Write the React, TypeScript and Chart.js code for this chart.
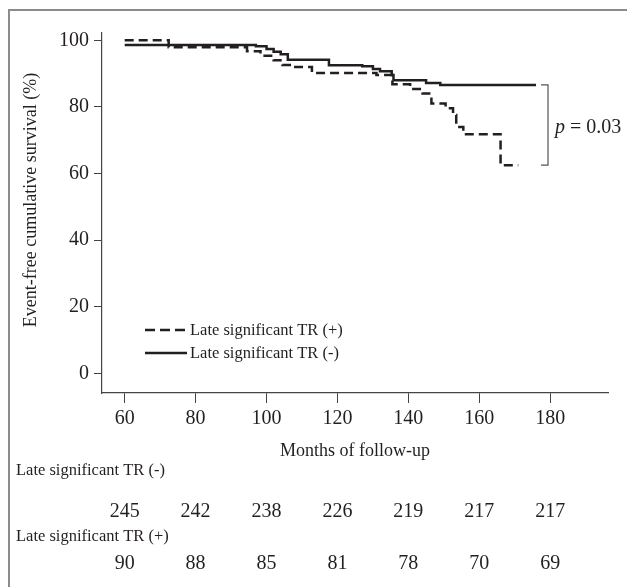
import React, { useEffect, useRef } from "react";
import { Chart, registerables } from "chart.js";

Chart.register(...registerables);

// ---- data ----
const monthsNeg = [60, 97, 100, 102, 104, 106, 117.6, 127, 130, 132, 135.3, 135.8, 145, 149, 176];
const survivalNeg = [98.6, 98.2, 97.4, 96.6, 95.8, 94.2, 92.5, 92.2, 91.4, 90.7, 89.6, 88.0, 87.2, 86.6, 86.6];
const monthsPos = [60, 72.4, 94.5, 98.3, 102, 104.5, 107.5, 112.8, 131, 135.5, 140.5, 144, 146.5, 150.5, 152.6, 153.5, 155.5, 166, 171];
const survivalPos = [100, 97.9, 96.7, 95.4, 94.0, 92.6, 92.0, 90.2, 89.6, 86.8, 85.4, 84.0, 81.0, 79.6, 77.6, 74.0, 71.8, 62.5, 62.5];
const xTicks = [60, 80, 100, 120, 140, 160, 180];
const yTicks = [0, 20, 40, 60, 80, 100];
const atRiskNeg = [245, 242, 238, 226, 219, 217, 217];
const atRiskPos = [90, 88, 85, 81, 78, 70, 69];
const seriesLabels = ["Late significant TR (+)", "Late significant TR (-)"];
const riskLabels = ["Late significant TR (-)", "Late significant TR (+)"];
const xTitle = "Months of follow-up";
const yTitle = "Event-free cumulative survival (%)";
const pValue = "0.03";

const SERIF = "'Liberation Serif', 'Times New Roman', serif";
const INK = "#231f20";

export default function App() {
  const ref = useRef<HTMLCanvasElement>(null);

  useEffect(() => {
    const canvas = ref.current;
    if (!canvas) return;

    const overlay = {
      id: "overlay",
      afterDraw(chart: any) {
        const { ctx, scales } = chart;
        const xs = scales.x;
        const ys = scales.y;
        ctx.save();

        // outer frame
        ctx.strokeStyle = "#8c8c8c";
        ctx.lineWidth = 2;
        ctx.setLineDash([]);
        ctx.beginPath();
        ctx.moveTo(9, 700);
        ctx.lineTo(9, 10);
        ctx.lineTo(700, 10);
        ctx.stroke();

        // y axis title
        ctx.save();
        ctx.translate(31, 200);
        ctx.rotate(-Math.PI / 2);
        ctx.font = `18px ${SERIF}`;
        ctx.fillStyle = INK;
        ctx.textAlign = "center";
        ctx.textBaseline = "middle";
        ctx.fillText(yTitle, 0, 0);
        ctx.restore();

        // legend
        const ds = chart.data.datasets;
        const legendX0 = 145;
        const legendX1 = 187;
        const legendY = [330, 353];
        ctx.font = `16.5px ${SERIF}`;
        ctx.textBaseline = "middle";
        ctx.textAlign = "left";
        ds.forEach((d: any, i: number) => {
          ctx.strokeStyle = INK;
          ctx.lineWidth = 2.5;
          ctx.setLineDash(d.borderDash ? [10, 5] : []);
          ctx.beginPath();
          ctx.moveTo(legendX0, legendY[i]);
          ctx.lineTo(legendX1, legendY[i]);
          ctx.stroke();
          ctx.setLineDash([]);
          ctx.fillStyle = INK;
          ctx.fillText(d.label, legendX1 + 3, legendY[i] + 1);
        });

        // p-value bracket
        const endX = xs.getPixelForValue(monthsNeg[monthsNeg.length - 1]);
        const bx = endX + 12;
        const yTop = ys.getPixelForValue(survivalNeg[survivalNeg.length - 1]);
        const yBot = ys.getPixelForValue(survivalPos[survivalPos.length - 1]);
        ctx.strokeStyle = "#555";
        ctx.lineWidth = 1.2;
        ctx.beginPath();
        ctx.moveTo(bx - 7, yTop);
        ctx.lineTo(bx, yTop);
        ctx.lineTo(bx, yBot);
        ctx.lineTo(bx - 7, yBot);
        ctx.stroke();
        const midY = (yTop + yBot) / 2 + 3;
        ctx.fillStyle = INK;
        ctx.font = `italic 20px ${SERIF}`;
        ctx.fillText("p", bx + 7, midY);
        const pw = ctx.measureText("p").width;
        ctx.font = `20px ${SERIF}`;
        ctx.fillText(" = " + pValue, bx + 7 + pw, midY);

        // number at risk table
        ctx.font = `16.5px ${SERIF}`;
        ctx.textAlign = "left";
        ctx.fillText(riskLabels[0], 16, 471);
        ctx.fillText(riskLabels[1], 16, 537);
        ctx.font = `20px ${SERIF}`;
        ctx.textAlign = "center";
        xTicks.forEach((t, i) => {
          const px = xs.getPixelForValue(t);
          ctx.fillText(String(atRiskNeg[i]), px, 512);
          ctx.fillText(String(atRiskPos[i]), px, 564);
        });

        ctx.restore();
      },
    };

    const chart = new Chart(canvas, {
      type: "line",
      data: {
        datasets: [
          {
            label: seriesLabels[0],
            data: monthsPos.map((m, i) => ({ x: m, y: survivalPos[i] })),
            borderColor: INK,
            borderWidth: 2.5,
            borderDash: [9, 5],
            stepped: true,
            pointRadius: 0,
            fill: false,
          },
          {
            label: seriesLabels[1],
            data: monthsNeg.map((m, i) => ({ x: m, y: survivalNeg[i] })),
            borderColor: INK,
            borderWidth: 2.5,
            stepped: true,
            pointRadius: 0,
            fill: false,
          },
        ],
      },
      options: {
        responsive: false,
        animation: false,
        devicePixelRatio: 1,
        layout: { padding: { top: 33, right: 19, left: 0, bottom: 0 } },
        plugins: {
          legend: { display: false },
          tooltip: { enabled: false },
        },
        scales: {
          x: {
            type: "linear",
            min: 53.6,
            max: 196.3,
            afterBuildTicks: (s: any) => {
              s.ticks = xTicks.map((v) => ({ value: v }));
            },
            afterFit: (s: any) => {
              s.height = 194;
            },
            grid: { display: true, drawOnChartArea: false, drawTicks: true, tickLength: 10, color: "#444", lineWidth: 1 },
            border: { display: true, color: "#444", width: 1.2 },
            ticks: { font: { family: SERIF, size: 20 }, color: INK, padding: 4, maxRotation: 0, autoSkip: false },
            title: {
              display: true,
              text: xTitle,
              font: { family: SERIF, size: 18 },
              color: INK,
              padding: { top: 0, bottom: 125 },
            },
          },
          y: {
            type: "linear",
            min: -5.9,
            max: 102.2,
            afterBuildTicks: (s: any) => {
              s.ticks = yTicks.map((v) => ({ value: v }));
            },
            afterFit: (s: any) => {
              s.width = 102;
            },
            grid: { display: true, drawOnChartArea: false, drawTicks: true, tickLength: 8, color: "#444", lineWidth: 1 },
            border: { display: true, color: "#444", width: 1.2 },
            ticks: { font: { family: SERIF, size: 20 }, color: INK, padding: 5, autoSkip: false },
            title: { display: false },
          },
        },
      },
      plugins: [overlay],
    } as any);

    return () => chart.destroy();
  }, []);

  return (
    <div style={{ position: "absolute", left: 0, top: 0, width: 627, height: 587, background: "#fff" }}>
      <canvas ref={ref} width={627} height={587} style={{ display: "block" }} />
    </div>
  );
}
